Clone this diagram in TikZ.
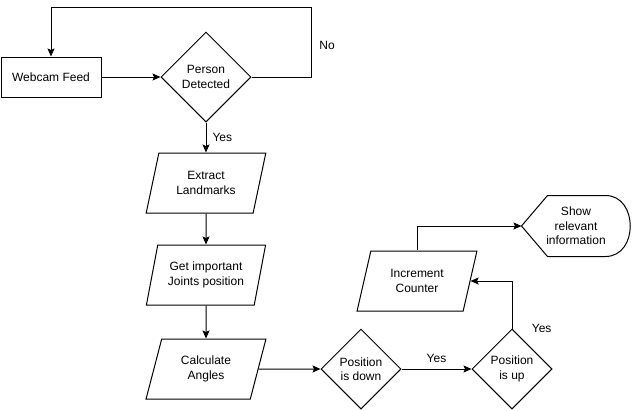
\documentclass[tikz,border=0pt]{standalone}
\usepackage{fontspec}
\setmainfont{Liberation Sans}
\usetikzlibrary{arrows.meta}
\usetikzlibrary{quotes}
\usetikzlibrary{shapes.geometric}
\usetikzlibrary{calc}

\begin{document}
\begin{tikzpicture}[x=1pt,y=-1pt,line width=1pt,>={Stealth[length=8pt,width=7pt,inset=1.5pt]},
    font=\fontsize{12}{14.4}\selectfont,
    every edge quotes/.style={auto,inner sep=6pt},
    every rectangle node/.style={align=center},
    every diamond node/.style={draw,aspect=1,inner sep=0pt,align=center},
    every trapezium node/.style={draw,trapezium left angle=71.57,trapezium right angle=108.43,trapezium stretches=true,minimum width=120pt,minimum height=60pt,inner sep=1pt,align=center}]
    \useasboundingbox (0,0) rectangle (632,410);
    \node[draw,minimum width=100pt,minimum height=40pt] (feed) at (51,77) {Webcam Feed};
    \node[diamond,minimum width=90pt,minimum height=90pt] (detect) at (206,77) {Person\\Detected};
    \node[trapezium] (extract) at (206,183) {Extract\\Landmarks};
    \node[trapezium] (joints) at (206,275) {Get important\\Joints position};
    \node[trapezium] (angles) at (206,369) {Calculate\\Angles};
    \node[diamond,minimum width=80pt,minimum height=80pt] (down) at (361,369) {Position\\is down};
    \node[diamond,minimum width=80pt,minimum height=80pt] (up) at (512,369) {Position\\is up};
    \node[trapezium] (counter) at (417,281) {Increment\\Counter};
    \node[minimum width=108pt,minimum height=60pt,inner sep=0pt] (show) at (576,226) {Show\\relevant\\information};
    % display shape round the last node
    \draw (show.west) -- ($(show.north west)+(26,0)$) -- ($(show.north east)+(-25,0)$)
        .. controls ($(show.north east)+(8,0)$) and ($(show.south east)+(8,0)$) .. ($(show.south east)+(-25,0)$)
        -- ($(show.south west)+(26,0)$) -- cycle;
    \draw (feed) edge[->] (detect);
    \draw (detect) edge["Yes",->] (extract);
    \draw (extract) edge[->] (joints);
    \draw (joints) edge[->] (angles);
    \draw (angles) edge[->] (down);
    \draw (down) edge["Yes",->] (up);
    \draw[->] (detect.east) -- ++(60,0) -- node[right,pos=0.45,xshift=4pt]{No} ++(0,-70) -| (feed.north);
    \draw[->] (up.north) node[anchor=west,xshift=16pt]{Yes} |- (counter.east);
    \draw[->] (counter.north) |- (show.west);
\end{tikzpicture}
\end{document}
